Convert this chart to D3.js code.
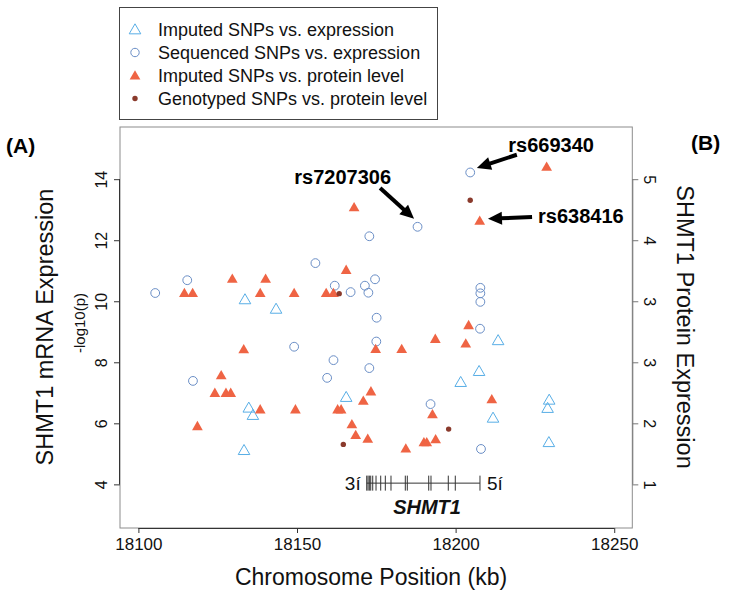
<!DOCTYPE html>
<html>
<head>
<meta charset="utf-8">
<script src="https://cdn.jsdelivr.net/npm/d3@7"></script>
<style>
  body { margin: 0; background: #fff; }
  svg { display: block; font-family: "Liberation Sans", Arial, Helvetica, sans-serif; }
</style>
</head>
<body>
<svg></svg>
<script>
// values (position in kb, -log10 p on the left scale)
const seqExprPos = [18105.3, 18115.4, 18155.8, 18204.6, 18188.0, 18172.8, 18161.9, 18171.4, 18174.6, 18166.9, 18172.5, 18175.1,
                    18207.8, 18207.8, 18207.8, 18207.7, 18175.0, 18149.1, 18161.5, 18159.5, 18172.8, 18117.2, 18192.1, 18208.0]
const seqExprP = [10.27, 10.69, 11.25, 14.22, 12.44, 12.13, 10.51, 10.51, 10.72, 10.30, 10.28, 9.46,
                  10.44, 10.26, 9.98, 9.10, 8.68, 8.51, 8.07, 7.49, 7.81, 7.39, 6.63, 5.16]

const impExprPos = [18133.6, 18143.4, 18134.8, 18136.1, 18133.3, 18165.5, 18213.4, 18207.4, 18201.6, 18229.5, 18229.0, 18211.8, 18229.4]
const impExprP = [10.06, 9.75, 6.51, 6.27, 5.12, 6.86, 8.72, 7.71, 7.35, 6.77, 6.50, 6.18, 5.38]

const impProtPos = [18114.5, 18117.1, 18129.6, 18140.1, 18138.4, 18149.1, 18228.7, 18168.0, 18207.6, 18165.5, 18159.2, 18161.5,
                    18133.2, 18126.1, 18124.1, 18127.6, 18129.1, 18138.4, 18149.5, 18118.6, 18162.8, 18163.9, 18204.1, 18174.8,
                    18183.0, 18193.6, 18203.2, 18173.3, 18170.9, 18192.7, 18211.4, 18167.3, 18168.5, 18172.3, 18184.3, 18190.0,
                    18190.9, 18193.7]
const impProtP = [10.27, 10.27, 10.74, 10.74, 10.27, 10.27, 14.41, 13.08, 12.64, 11.03, 10.27, 10.27,
                  8.43, 7.58, 7.00, 7.00, 7.00, 6.46, 6.46, 5.91, 6.46, 6.46, 9.22, 8.44,
                  8.44, 8.77, 8.62, 7.05, 6.74, 6.30, 6.79, 5.97, 5.62, 5.50, 5.18, 5.38,
                  5.38, 5.48]

const genoProtPos = [18204.6, 18163.3, 18164.6, 18197.8]
const genoProtP = [13.31, 10.25, 5.31, 5.81]

const xTicks = [18100, 18150, 18200, 18250]
const leftTicks = [4, 6, 8, 10, 12, 14]
const rightTickLabels = ['1', '2', '3', '3', '4', '5']

const legendLabels = ['Imputed SNPs vs. expression', 'Sequenced SNPs vs. expression',
                      'Imputed SNPs vs. protein level', 'Genotyped SNPs vs. protein level']

// labelled SNPs: target, arrow tail, label centre
const callouts = [
  {name: 'rs7207306', pos: 18186.9, p: 12.70, tailPos: 18176.2, tailP: 13.71, labPos: 18164.4, labP: 14.08},
  {name: 'rs669340', pos: 18206.7, p: 14.37, tailPos: 18219.3, tailP: 14.80, labPos: 18230.1, labP: 15.12},
  {name: 'rs638416', pos: 18210.2, p: 12.70, tailPos: 18224.1, tailP: 12.76, labPos: 18239.5, labP: 12.80}
]

// SHMT1 gene model
const geneStart = 18171.98
const geneEnd = 18207.68
const geneLevel = 4.04
const exons = [18171.98, 18172.39, 18172.8, 18173.24, 18173.87, 18174.91, 18176.39, 18177.84, 18179.63,
               18184.14, 18184.77, 18191.52, 18192.24, 18197.69, 18199.9, 18207.68]

const W = 729, H = 596
const svg = d3.select('svg').attr('width', W).attr('height', H)

const x = d3.scaleLinear().domain([18094.2, 18255.7]).range([120, 632.3])
const y = d3.scaleLinear().domain([2.57, 15.71]).range([528, 127])

const colSeq = '#6a8ec6'
const colImpExpr = '#58aee6'
const colImpProt = '#ef6444'
const colGeno = '#8a3a2c'

// plot frame
svg.append('rect')
  .attr('x', x.range()[0]).attr('y', y.range()[1])
  .attr('width', x.range()[1] - x.range()[0]).attr('height', y.range()[0] - y.range()[1])
  .attr('fill', 'none').attr('stroke', '#8c8c8c').attr('stroke-width', 1)

// bottom axis
const xAxis = svg.append('g').attr('transform', `translate(0,${y.range()[0]})`)
  .call(d3.axisBottom(x).tickValues(xTicks).tickFormat(d3.format('d')).tickSize(5).tickPadding(5))
xAxis.select('.domain').attr('d', `M${x(18100)},0.5H${x(18250)}`).attr('stroke', '#333')
xAxis.selectAll('.tick line').attr('stroke', '#333')
xAxis.selectAll('text').attr('font-size', 17).attr('fill', '#111').attr('font-family', 'Liberation Sans, Arial, sans-serif')

// left axis
const yAxis = svg.append('g').attr('transform', `translate(${x.range()[0]},0)`)
  .call(d3.axisLeft(y).tickValues(leftTicks).tickSize(6).tickFormat(d3.format('d')))
yAxis.select('.domain').attr('d', `M-0.5,${y(4)}V${y(14)}`).attr('stroke', '#333')
yAxis.selectAll('.tick line').attr('stroke', '#333')
yAxis.selectAll('text')
  .attr('x', null).attr('dy', null)
  .attr('transform', 'translate(-13,0) rotate(-90)')
  .attr('text-anchor', 'middle')
  .attr('font-size', 16).attr('fill', '#111').attr('font-family', 'Liberation Sans, Arial, sans-serif')

// right axis (protein scale, labels as printed)
const rAxis = svg.append('g').attr('transform', `translate(${x.range()[1]},0)`)
  .call(d3.axisRight(y).tickValues(leftTicks).tickSize(6).tickFormat((d, i) => rightTickLabels[i]))
rAxis.select('.domain').attr('d', `M0.5,${y(4)}V${y(14)}`).attr('stroke', '#777')
rAxis.selectAll('.tick line').attr('stroke', '#777')
rAxis.selectAll('text')
  .attr('x', null).attr('dy', null)
  .attr('transform', 'translate(12,0) rotate(90)')
  .attr('text-anchor', 'middle')
  .attr('font-size', 16).attr('fill', '#111').attr('font-family', 'Liberation Sans, Arial, sans-serif')

// titles
svg.append('text').attr('transform', 'translate(371,585)').attr('text-anchor', 'middle')
  .attr('font-size', 23).attr('fill', '#111').text('Chromosome Position (kb)')
svg.append('text').attr('transform', 'translate(53,327) rotate(-90)').attr('text-anchor', 'middle')
  .attr('font-size', 23.5).attr('fill', '#111').text('SHMT1 mRNA Expression')
svg.append('text').attr('transform', 'translate(85,323) rotate(-90)').attr('text-anchor', 'middle')
  .attr('font-size', 15).attr('fill', '#111').text('-log10(p)')
svg.append('text').attr('transform', 'translate(677,327) rotate(90)').attr('text-anchor', 'middle')
  .attr('font-size', 23.5).attr('fill', '#111').text('SHMT1 Protein Expression')
svg.append('text').attr('x', 6).attr('y', 153).attr('font-size', 21).attr('font-weight', 'bold').text('(A)')
svg.append('text').attr('x', 691).attr('y', 150).attr('font-size', 21).attr('font-weight', 'bold').text('(B)')

// points
const tri = d3.symbol().type(d3.symbolTriangle)
const toPts = (pos, p) => pos.map((d, i) => ({pos: d, p: p[i]}))

svg.append('g').selectAll('circle').data(toPts(seqExprPos, seqExprP)).join('circle')
  .attr('cx', d => x(d.pos)).attr('cy', d => y(d.p)).attr('r', 4.4)
  .attr('fill', 'none').attr('stroke', colSeq).attr('stroke-width', 1)

svg.append('g').selectAll('path').data(toPts(impExprPos, impExprP)).join('path')
  .attr('d', tri.size(58)).attr('transform', d => `translate(${x(d.pos)},${y(d.p) + 1})`)
  .attr('fill', 'none').attr('stroke', colImpExpr).attr('stroke-width', 1)

svg.append('g').selectAll('path').data(toPts(impProtPos, impProtP)).join('path')
  .attr('d', tri.size(50)).attr('transform', d => `translate(${x(d.pos)},${y(d.p) + 1})`)
  .attr('fill', colImpProt)

svg.append('g').selectAll('circle').data(toPts(genoProtPos, genoProtP)).join('circle')
  .attr('cx', d => x(d.pos)).attr('cy', d => y(d.p)).attr('r', 2.7)
  .attr('fill', colGeno)

// gene model
const gene = svg.append('g').attr('stroke', '#333').attr('stroke-width', 1)
gene.append('line').attr('x1', x(geneStart)).attr('x2', x(geneEnd)).attr('y1', y(geneLevel)).attr('y2', y(geneLevel))
gene.selectAll('.exon').data(exons).join('line').attr('class', 'exon')
  .attr('x1', d => x(d)).attr('x2', d => x(d))
  .attr('y1', y(geneLevel) - 7.5).attr('y2', y(geneLevel) + 7.5)
svg.append('text').attr('x', x(geneStart) - 6).attr('y', y(geneLevel) + 7).attr('text-anchor', 'end')
  .attr('font-size', 19).attr('fill', '#111').text('3í')
svg.append('text').attr('x', x(geneEnd) + 7).attr('y', y(geneLevel) + 7)
  .attr('font-size', 19).attr('fill', '#111').text('5í')
svg.append('text').attr('x', x(18191)).attr('y', y(geneLevel) + 31).attr('text-anchor', 'middle')
  .attr('font-size', 20).attr('font-weight', 'bold').attr('font-style', 'italic').attr('fill', '#111').text('SHMT1')

// callouts
const arrows = svg.append('g')
callouts.forEach(c => {
  const x0 = x(c.tailPos), y0 = y(c.tailP), x1 = x(c.pos), y1 = y(c.p)
  const len = Math.hypot(x1 - x0, y1 - y0)
  const ux = (x1 - x0) / len, uy = (y1 - y0) / len
  const hl = 14, hw = 6.5
  const bx = x1 - ux * hl, by = y1 - uy * hl
  arrows.append('line').attr('x1', x0).attr('y1', y0).attr('x2', bx + ux * 2).attr('y2', by + uy * 2)
    .attr('stroke', '#000').attr('stroke-width', 4)
  arrows.append('path')
    .attr('d', `M${x1},${y1}L${bx - uy * hw},${by + ux * hw}L${bx + uy * hw},${by - ux * hw}Z`)
    .attr('fill', '#000')
  arrows.append('text').attr('x', x(c.labPos)).attr('y', y(c.labP) + 7).attr('text-anchor', 'middle')
    .attr('font-size', 20).attr('font-weight', 'bold').attr('fill', '#000').text(c.name)
})

// legend
const legend = svg.append('g')
legend.append('rect').attr('x', 119.5).attr('y', 7.5).attr('width', 318).attr('height', 112)
  .attr('fill', '#fff').attr('stroke', '#444').attr('stroke-width', 1)
const rows = legend.selectAll('.row').data(legendLabels).join('g').attr('class', 'row')
  .attr('transform', (d, i) => `translate(135,${29.5 + i * 23})`)
rows.append('text').attr('x', 23).attr('y', 6.5).attr('font-size', 18).attr('fill', '#111').text(d => d)
rows.filter((d, i) => i === 0).append('path').attr('d', tri.size(58)).attr('transform', 'translate(0,1)')
  .attr('fill', 'none').attr('stroke', colImpExpr)
rows.filter((d, i) => i === 1).append('circle').attr('r', 4.2).attr('fill', 'none').attr('stroke', colSeq)
rows.filter((d, i) => i === 2).append('path').attr('d', tri.size(50)).attr('transform', 'translate(0,1)')
  .attr('fill', colImpProt)
rows.filter((d, i) => i === 3).append('circle').attr('r', 2.7).attr('fill', colGeno)
</script>
</body>
</html>
